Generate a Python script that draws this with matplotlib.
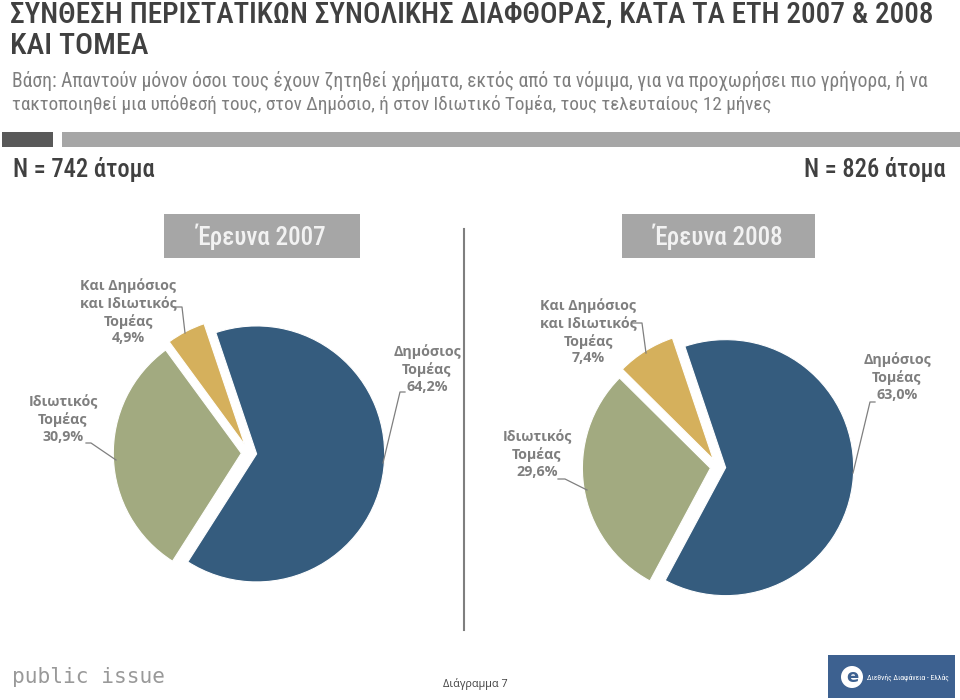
import matplotlib
matplotlib.use("Agg")
import matplotlib.pyplot as plt
from matplotlib import font_manager as fm
from matplotlib.patches import Rectangle, Circle

# ---------------- data ----------------
categories = ["Δημόσιος\nΤομέας", "Ιδιωτικός\nΤομέας", "Και Δημόσιος\nκαι Ιδιωτικός\nΤομέας"]
values_2007 = [64.2, 30.9, 4.9]
values_2008 = [63.0, 29.6, 7.4]
colors = ["#355C7E", "#A2AA80", "#D5B05C"]
survey_titles = ["Έρευνα 2007", "Έρευνα 2008"]
sample_labels = ["N = 742 άτομα", "N = 826 άτομα"]
title_lines = ["ΣΥΝΘΕΣΗ ΠΕΡΙΣΤΑΤΙΚΩΝ ΣΥΝΟΛΙΚΗΣ ΔΙΑΦΘΟΡΑΣ, ΚΑΤΑ ΤΑ ΕΤΗ 2007 & 2008",
               "ΚΑΙ ΤΟΜΕΑ"]
subtitle_lines = ["Βάση: Απαντούν μόνον όσοι τους έχουν ζητηθεί χρήματα, εκτός από τα νόμιμα, για να προχωρήσει πιο γρήγορα, ή να",
                  "τακτοποιηθεί μια υπόθεσή τους, στον Δημόσιο, ή στον Ιδιωτικό Τομέα, τους τελευταίους 12 μήνες"]
footer_text = "Διάγραμμα 7"


def pick(names, **kw):
    for n in names:
        try:
            fm.findfont(fm.FontProperties(family=n, **kw), fallback_to_default=False)
            return n
        except Exception:
            pass
    return "DejaVu Sans"


NARROW = pick(["Liberation Sans Narrow", "Roboto Condensed", "Open Sans Condensed", "DejaVu Sans"])
LABEL = pick(["Open Sans", "Noto Sans", "DejaVu Sans"])

W, H = 960, 700
fig = plt.figure(figsize=(W / 100, H / 100), dpi=100)
fig.patch.set_facecolor("white")

# ---------------- pies ----------------
R = 128.0
HALF = 150.0
pie_centers = [(249, 453), (718, 467)]
explode = [0.06, 0.06, 0.07]
for (cx, cy), vals in zip(pie_centers, [values_2007, values_2008]):
    pax = fig.add_axes([(cx - HALF) / W, (H - cy - HALF) / H, 2 * HALF / W, 2 * HALF / H])
    pax.pie(vals, colors=colors, explode=explode, startangle=108.6, counterclock=False,
            wedgeprops=dict(linewidth=0.8, edgecolor="white"))
    lim = HALF / R
    pax.set_xlim(-lim, lim)
    pax.set_ylim(-lim, lim)
    pax.set_aspect("equal")
    pax.set_axis_off()

# ---------------- overlay ----------------
ax = fig.add_axes([0, 0, 1, 1], facecolor="none")
ax.set_xlim(0, W)
ax.set_ylim(H, 0)
ax.set_axis_off()

renderer = fig.canvas.get_renderer()


def fit_text(x, y, s, width, family, color, ha="left", va="center", weight="normal", start=20):
    t = ax.text(x, y, s, fontsize=start, family=family, color=color, ha=ha, va=va, weight=weight)
    bb = t.get_window_extent(renderer=renderer)
    t.set_fontsize(start * width / bb.width)
    return t


TW = "medium"
# title
fit_text(10, 15, title_lines[0], 925, NARROW, "#404040", weight=TW, start=22)
fit_text(10, 46, title_lines[1], 138, NARROW, "#404040", weight=TW, start=22)
# subtitle
fit_text(12, 81, subtitle_lines[0], 913, NARROW, "#7F7F7F", start=13)
fit_text(12, 105, subtitle_lines[1], 757, NARROW, "#7F7F7F", start=13)

# top bar
ax.add_patch(Rectangle((2, 132), 51, 15, facecolor="#595959", edgecolor="none"))
ax.add_patch(Rectangle((62, 132), 898, 15, facecolor="#A6A6A6", edgecolor="none"))

# sample sizes
fit_text(13, 169, sample_labels[0], 142, NARROW, "#404040", weight=TW, start=17)
fit_text(946, 169, sample_labels[1], 142, NARROW, "#404040", ha="right", weight=TW, start=17)

# survey boxes
for (x0, x1), s in zip([(164, 360), (622, 815)], survey_titles):
    ax.add_patch(Rectangle((x0, 214), x1 - x0, 44, facecolor="#A6A6A6", edgecolor="none"))
    fit_text((x0 + x1) / 2, 237, s, 130, NARROW, "#F2F2F2", ha="center", weight=TW, start=17)

# divider
ax.plot([464, 464], [229, 630], color="#7F7F7F", lw=1.5)

# data labels
def lab(cat, v):
    return cat + "\n" + f"{v:.1f}%".replace(".", ",")

label_color = "#7F7F7F"
lkw = dict(family=LABEL, color=label_color, fontsize=10.3, weight="bold", ha="center",
           va="center", linespacing=1.25)
# 2007
ax.text(427, 369, lab(categories[0], values_2007[0]), **lkw)
ax.text(63, 419, lab(categories[1], values_2007[1]), **lkw)
ax.text(128, 312, lab(categories[2], values_2007[2]), **lkw)
# 2008
ax.text(897, 377, lab(categories[0], values_2008[0]), **lkw)
ax.text(537, 454, lab(categories[1], values_2008[1]), **lkw)
ax.text(588, 332, lab(categories[2], values_2008[2]), **lkw)

lc = dict(color="#7F7F7F", lw=0.9)
# 2007 leaders
ax.plot([405, 400, 383], [392, 392, 463], **lc)
ax.plot([86, 91, 116], [443, 443, 460], **lc)
ax.plot([174, 182, 185], [307, 307, 333], **lc)
# 2008 leaders
ax.plot([875, 870, 853], [402, 402, 473], **lc)
ax.plot([558, 565, 587], [479, 479, 490], **lc)
ax.plot([633, 642, 646], [323, 323, 353], **lc)

# footer
fit_text(12, 677, "public issue", 153, "DejaVu Sans Mono", "#999999", start=20)
fit_text(443, 684, footer_text, 65, LABEL, "#404040", start=8)

# logo box
ax.add_patch(Rectangle((828, 655), 127, 43, facecolor="#3D6190", edgecolor="none"))
ax.add_patch(Circle((852, 677), 11, facecolor="white", edgecolor="none"))
ax.text(852, 677, "e", family="DejaVu Sans", fontsize=13, weight="bold", color="#3D6190",
        ha="center", va="center")
fit_text(867, 677, "Διεθνής Διαφάνεια - Ελλάς", 82, NARROW, "white", start=7)

fig.savefig("out.png", dpi=100, facecolor="white")
